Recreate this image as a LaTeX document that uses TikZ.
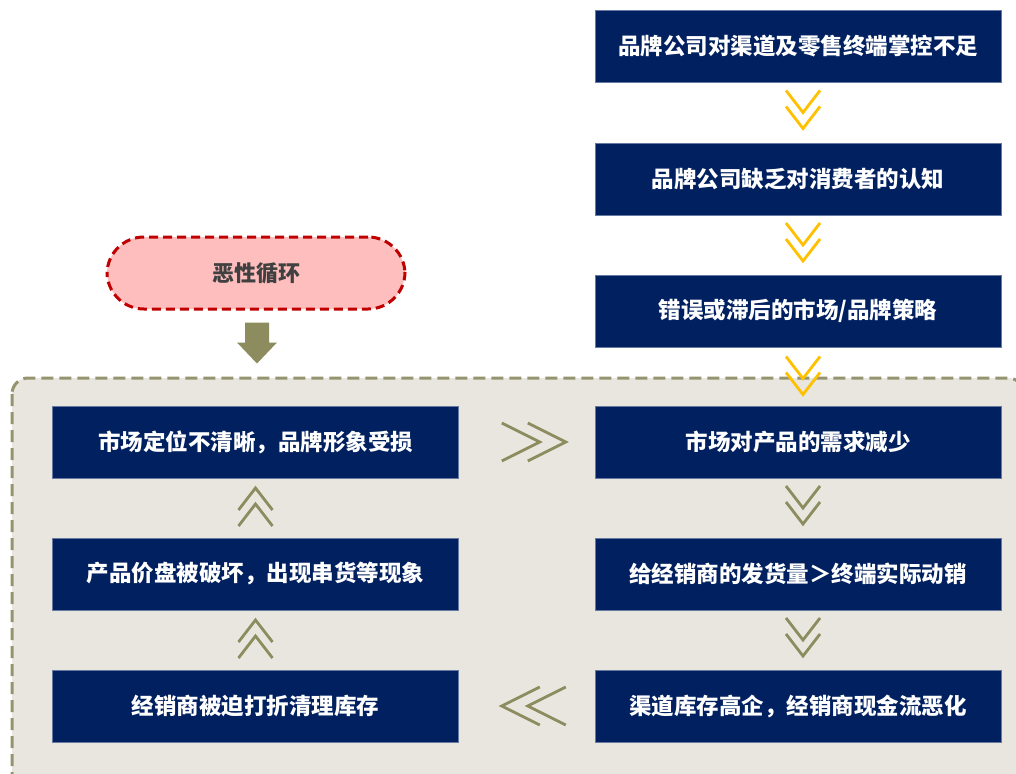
\documentclass[tikz,border=0pt]{standalone}
\usepackage{fontspec}
\newfontfamily\cjk{Noto Sans CJK SC}
\usetikzlibrary{calc}
\definecolor{navy}{RGB}{0,32,96}
\definecolor{bgc}{RGB}{232,230,223}
\definecolor{olive}{RGB}{150,148,110}
\definecolor{chevolive}{RGB}{140,140,95}
\definecolor{gold}{RGB}{255,192,0}
\definecolor{pinkf}{RGB}{255,190,190}
\definecolor{redd}{RGB}{192,0,0}
\tikzset{
  box/.style={fill=navy, draw=navy!60, line width=0.5pt, minimum width=406, minimum height=72, inner sep=0, text=white, font=\cjk\bfseries\fontsize{22.5}{26}\selectfont},
  chevline/.style={line width=2.8pt, line join=miter},
  pics/dchev/.style={code={
    \draw[chevline,#1] (-17,-20) -- (0,2) -- (17,-20);
    \draw[chevline,#1] (-17,-4) -- (0,18) -- (17,-4);}},
  pics/uchev/.style={code={
    \draw[chevline,#1] (-17,20) -- (0,-2) -- (17,20);
    \draw[chevline,#1] (-17,4) -- (0,-18) -- (17,4);}},
  pics/rchev/.style={code={
    \draw[chevline,#1] (-32,-19) -- (6,0) -- (-32,19);
    \draw[chevline,#1] (-6,-19) -- (32,0) -- (-6,19);}},
  pics/lchev/.style={code={
    \draw[chevline,#1] (32,-19) -- (-6,0) -- (32,19);
    \draw[chevline,#1] (6,-19) -- (-32,0) -- (6,19);}},
}
\begin{document}
\begin{tikzpicture}[x=1pt,y=-1pt]
\useasboundingbox (0,0) rectangle (1016,773);
\clip (0,0) rectangle (1016,773);
\fill[white] (0,0) rectangle (1016,773);
% background region
\draw[fill=bgc, draw=olive, line width=3pt, dash pattern=on 12pt off 6pt, rounded corners=16] (12,378) rectangle (1024,800);
% right column
\node[box] (r1) at (798,46) {品牌公司对渠道及零售终端掌控不足};
\node[box] (r2) at (798,179) {品牌公司缺乏对消费者的认知};
\node[box] (r3) at (798,311) {错误或滞后的市场/品牌策略};
\node[box] (r4) at (798,442) {市场对产品的需求减少};
\node[box] (r5) at (798,574) {给经销商的发货量＞终端实际动销};
\node[box] (r6) at (798,706) {渠道库存高企，经销商现金流恶化};
% left column
\node[box] (l1) at (255.5,442) {市场定位不清晰，品牌形象受损};
\node[box] (l2) at (255.5,574) {产品价盘被破坏，出现串货等现象};
\node[box] (l3) at (255.5,706) {经销商被迫打折清理库存};
% pill
\node[draw=redd, fill=pinkf, line width=3pt, dash pattern=on 9pt off 5pt, rounded corners=37, minimum width=298, minimum height=72, text=black!75, font=\cjk\bfseries\fontsize{22}{26}\selectfont] (p) at (256,273) {恶性循环};
% block arrow
\fill[chevolive] ($(p.south)+(-11,12)$) -- ++(24,0) -- ++(0,20) -- ++(8,0) -- ++(-20,21) -- ++(-20,-21) -- ++(8,0) -- cycle;
% chevrons
\pic at ($(r1.south)!0.5!(r2.north)+(5,-2)$) {dchev=gold};
\pic at ($(r2.south)!0.5!(r3.north)+(5,-2)$) {dchev=gold};
\pic at ($(r3.south)!0.5!(r4.north)+(5,0)$) {dchev=gold};
\pic at ($(r4.south)!0.5!(r5.north)+(5,-2)$) {dchev=chevolive};
\pic at ($(r5.south)!0.5!(r6.north)+(5,-2)$) {dchev=chevolive};
\pic at ($(l1.east)!0.5!(r4.west)+(7,0)$) {rchev=chevolive};
\pic at ($(l3.east)!0.5!(r6.west)+(7,0)$) {lchev=chevolive};
\pic at ($(l3.north)!0.5!(l2.south)+(0,-2)$) {uchev=chevolive};
\pic at ($(l2.north)!0.5!(l1.south)+(0,-2)$) {uchev=chevolive};
\end{tikzpicture}
\end{document}
